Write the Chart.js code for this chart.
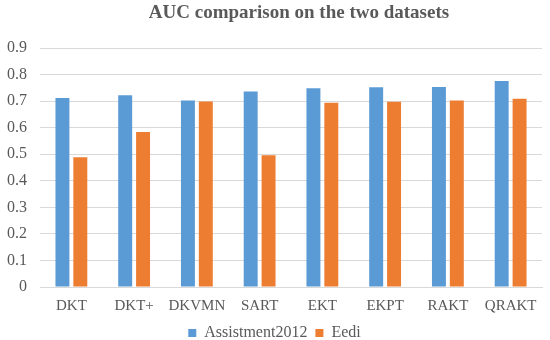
<!DOCTYPE html>
<html>
<head>
<meta charset="utf-8">
<script src="https://cdn.jsdelivr.net/npm/chart.js@4/dist/chart.umd.min.js"></script>
<style>
  html, body { margin: 0; padding: 0; background: #fff; }
  #wrap { width: 550px; height: 340px; position: relative; }
</style>
</head>
<body>
<div id="wrap"><canvas id="c"></canvas></div>
<script>
// ── data ─────────────────────────────────────────────
const TITLE      = 'AUC comparison on the two datasets';
const MODELS     = ['DKT', 'DKT+', 'DKVMN', 'SART', 'EKT', 'EKPT', 'RAKT', 'QRAKT'];
const ASSIST2012 = [0.712, 0.722, 0.702, 0.736, 0.748, 0.752, 0.753, 0.776];
const EEDI       = [0.489, 0.584, 0.699, 0.496, 0.694, 0.698, 0.702, 0.709];
const Y_TICKS    = [0, 0.1, 0.2, 0.3, 0.4, 0.5, 0.6, 0.7, 0.8, 0.9];

const COLORS = {
  blue:   '#5B9BD5',
  orange: '#ED7D31',
  text:   '#595959',
  grid:   '#D9D9D9',
};
const FONT = '"Liberation Serif", "Times New Roman", serif';

// titlul e desenat manual (centrat ca in Excel, nu pe tot canvas-ul)
const titlePlugin = {
  id: 'excelTitle',
  afterDraw(chart) {
    const ctx = chart.ctx;
    ctx.save();
    ctx.font = `bold 19px ${FONT}`;
    ctx.fillStyle = COLORS.text;
    ctx.textAlign = 'center';
    ctx.textBaseline = 'middle';
    ctx.fillText(TITLE, 299, 13);
    ctx.restore();
  }
};

new Chart(document.getElementById('c'), {
  type: 'bar',
  data: {
    labels: MODELS,
    datasets: [
      { label: 'Assistment2012', data: ASSIST2012, backgroundColor: COLORS.blue,   borderWidth: 0 },
      { label: 'Eedi',           data: EEDI,       backgroundColor: COLORS.orange, borderWidth: 0 },
    ]
  },
  options: {
    responsive: true,
    maintainAspectRatio: false,
    animation: false,
    datasets: { bar: { categoryPercentage: 0.57, barPercentage: 0.78 } },
    layout: { padding: { top: 48, left: 7, right: 8, bottom: -11 } },
    plugins: {
      title: { display: false },
      tooltip: { enabled: false },
      legend: {
        position: 'bottom',
        labels: {
          color: COLORS.text,
          font: { family: FONT, size: 16 },
          boxWidth: 8, boxHeight: 8,
          padding: 8,
        }
      }
    },
    scales: {
      x: {
        grid: { display: false },
        border: { display: true, color: COLORS.grid, width: 1 },
        ticks: {
          color: COLORS.text,
          font: { family: FONT, size: 15 },
          padding: 2,
          maxRotation: 0, minRotation: 0, autoSkip: false,
        },
      },
      y: {
        min: 0, max: 0.9,
        afterBuildTicks: axis => { axis.ticks = Y_TICKS.map(v => ({ value: v })); },
        afterFit: axis => { axis.width = 33; },
        grid: { color: COLORS.grid, drawTicks: false },
        border: { display: false },
        ticks: {
          color: COLORS.text,
          font: { family: FONT, size: 16 },
          padding: 13,
          callback: v => v === 0 ? '0' : v.toFixed(1),
        },
      },
    },
  },
  plugins: [titlePlugin],
});
</script>
</body>
</html>
